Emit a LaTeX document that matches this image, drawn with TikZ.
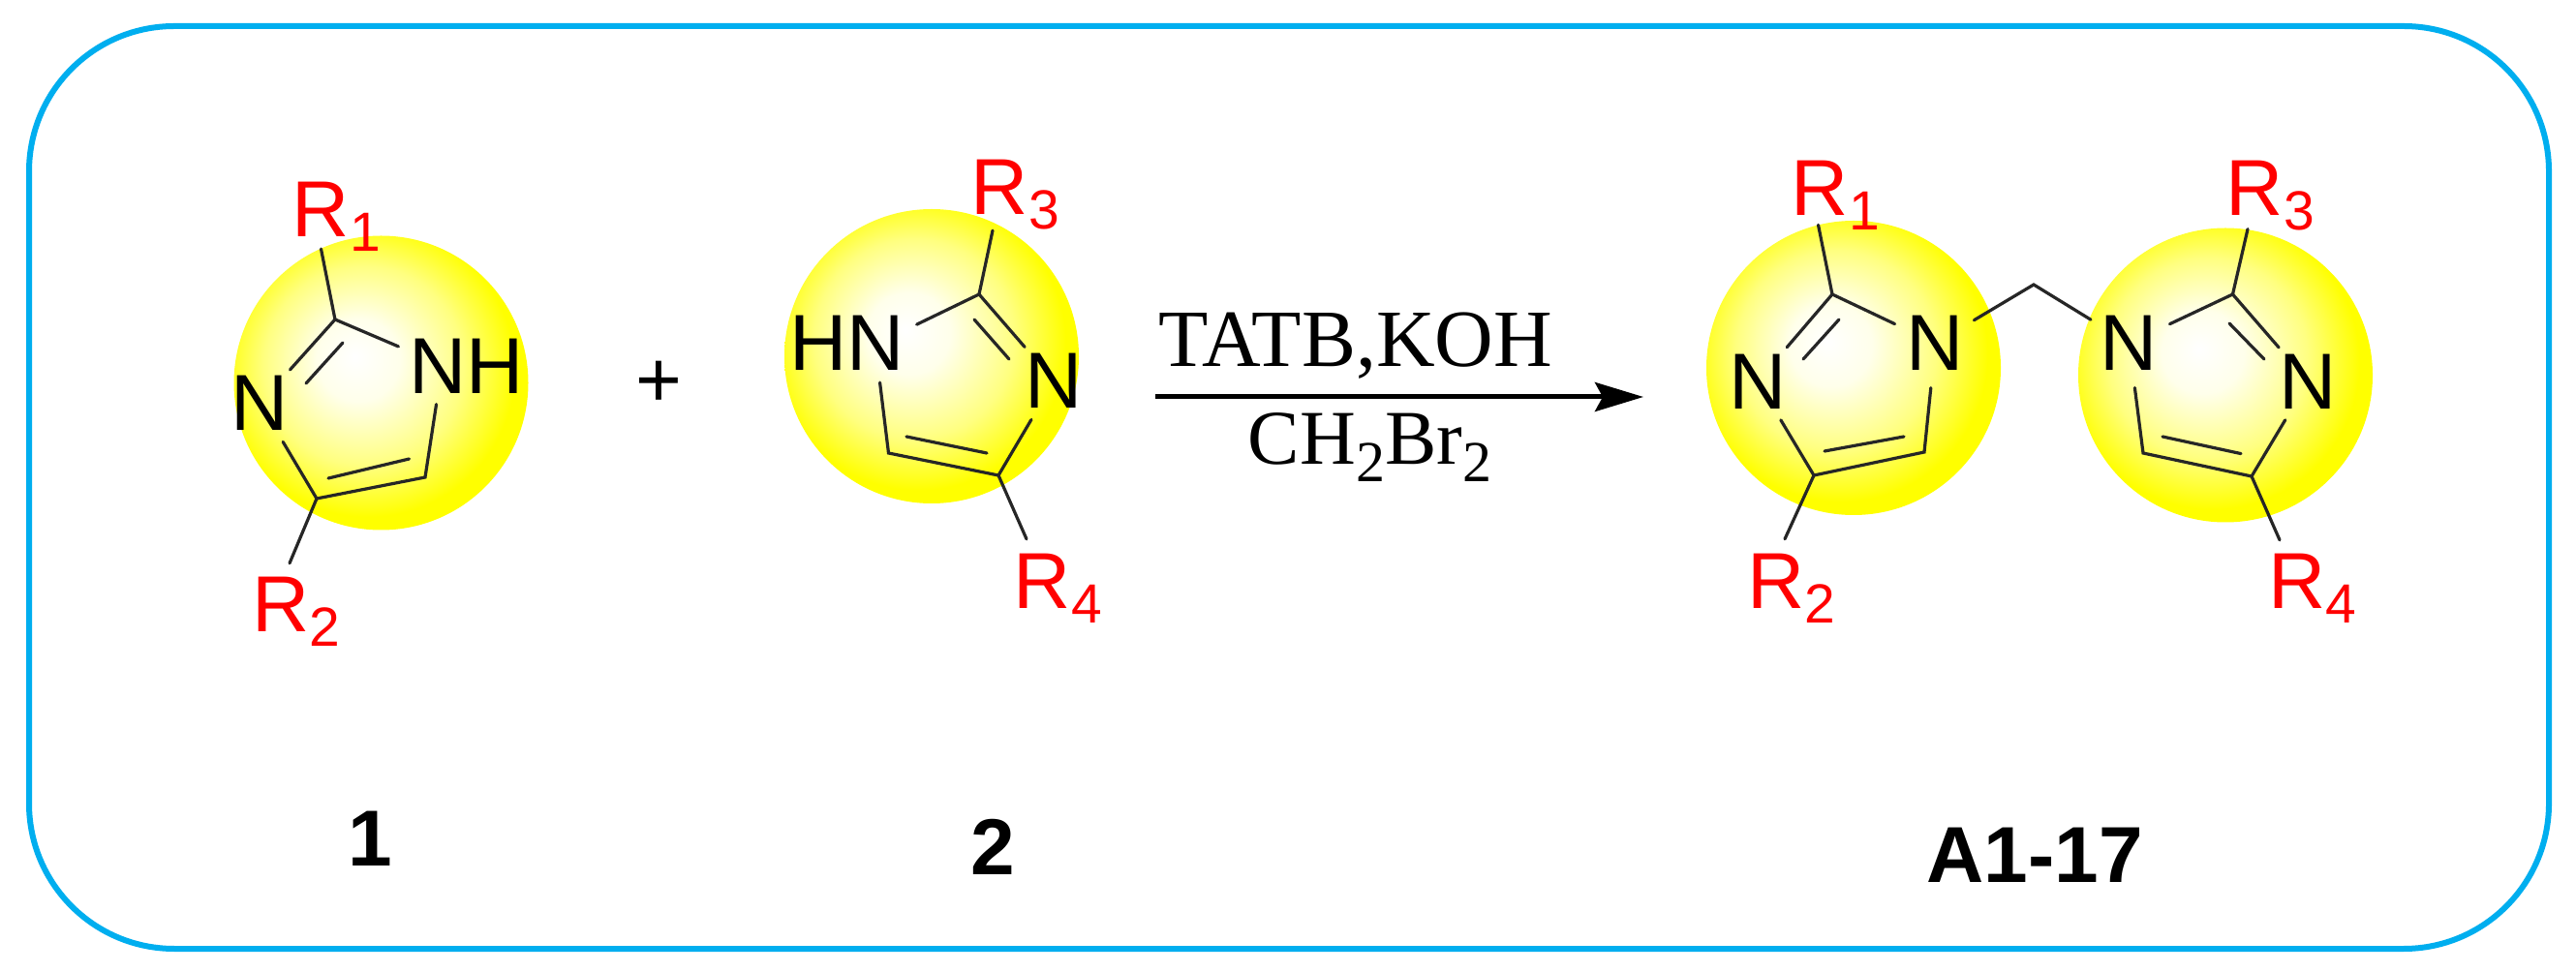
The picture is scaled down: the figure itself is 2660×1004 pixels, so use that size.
\documentclass[tikz,border=0pt]{standalone}
\usepackage{fontspec}
\setmainfont{Liberation Sans}
\newfontfamily\tnrfont{Liberation Serif}
\usetikzlibrary{arrows.meta}
\definecolor{framecyan}{HTML}{00AEEF}
\definecolor{bondgrey}{HTML}{262626}
\pgfdeclareradialshading{ballshade}{\pgfpoint{-4.5bp}{4.5bp}}{%
  color(0bp)=(white); color(7bp)=(white!92!yellow); color(17bp)=(white!50!yellow); color(25bp)=(yellow); color(50bp)=(yellow)}
\newcommand{\Rsub}[1]{R\rlap{\smash{\raisebox{-7.5pt}{\fontsize{28.5pt}{30pt}\selectfont #1}}}}
\newcommand{\sertwo}{\raisebox{-9pt}{\fontsize{30pt}{32pt}\selectfont 2}}
\tikzset{
  frameline/.style={draw=framecyan,line width=3pt,rounded corners=75pt},
  ball/.style={circle,inner sep=0pt,minimum size=152pt,shading=ballshade},
  bond/.style={draw=bondgrey,line width=1.6pt,line cap=round,line join=miter},
  atomn/.style={circle,inner sep=0pt,minimum size=46pt,font=\fontsize{41pt}{45pt}\selectfont},
  atomh/.style={rectangle,inner ysep=5.5pt,font=\fontsize{41pt}{45pt}\selectfont},
  rgroup/.style={rectangle,inner xsep=0pt,inner ysep=6pt,text=red,font=\fontsize{41pt}{45pt}\selectfont},
  serif/.style={font=\tnrfont\fontsize{40pt}{44pt}\selectfont,inner sep=0pt},
  cmpd/.style={font=\bfseries\fontsize{41pt}{45pt}\selectfont,inner sep=0pt},
  plussign/.style={font=\fontsize{41pt}{45pt}\selectfont,inner sep=0pt},
  rxn/.style={draw=black,line width=2.5pt,-{Stealth[length=25pt,width=15pt,inset=4pt]}}
}
\begin{document}
\begin{tikzpicture}[x=0.5pt,y=-0.5pt]
\useasboundingbox (0,0) rectangle (2660,1004);
\path[fill=white] (0,0) rectangle (2660,1004);
\draw[frameline] (30,27) rectangle (2632,980);
% yellow spheres
\node[ball] (balla) at (393.5,395.5) {};
\node[ball] (ballb) at (962,368) {};
\node[ball] (ballc) at (1914,380) {};
\node[ball] (balld) at (2298,387.5) {};
% ---------- molecule 1
\coordinate (ac2) at (346,330);
\coordinate (ac4) at (327,515);
\coordinate (ac5) at (439,493);
\coordinate (ad1) at (354,354);
\coordinate (ad2) at (316,396);
\coordinate (ad3) at (339,494);
\coordinate (ad4) at (422.5,474);
\node[atomn] (an3) at (268.5,416.5) {N};
\node[atomh,inner xsep=5.25pt] (anh) at (481.5,378) {NH};
\node[rgroup] (ar1) at (331.5,216.5) {\Rsub{1}};
\node[rgroup] (ar2) at (290,624) {\Rsub{2}};
\draw[bond] (ac2) -- (an3);
\draw[bond] (ad1) -- (ad2);
\draw[bond] (ac2) -- (anh.164);
\draw[bond] (an3) -- (ac4);
\draw[bond] (ac4) -- (ac5) -- (anh.232);
\draw[bond] (ad3) -- (ad4);
\draw[bond] (ac2) -- (ar1.south);
\draw[bond] (ac4) -- ([shift={(9,-1.6)}]ar2.north);
% plus
\node[plussign] (plus) at (680,397) {+};
% ---------- molecule 2
\coordinate (bc2) at (1011,304);
\coordinate (bc4) at (1031,491);
\coordinate (bc5) at (917.5,468);
\coordinate (bd1) at (1006,330);
\coordinate (bd2) at (1042,371);
\coordinate (bd3) at (1019,468);
\coordinate (bd4) at (936,451);
\node[atomh,inner xsep=6.25pt,inner ysep=6pt] (bhn) at (874.5,354.5) {HN};
\node[atomn] (bn3) at (1088.5,393.5) {N};
\node[rgroup] (br3) at (1032.5,193.5) {\Rsub{3}};
\node[rgroup] (br4) at (1076.5,600) {\Rsub{4}};
\draw[bond] (bc2) -- (bhn.15);
\draw[bond] (bc2) -- (bn3);
\draw[bond] (bd1) -- (bd2);
\draw[bond] (bn3) -- (bc4);
\draw[bond] (bc4) -- (bc5) -- (bhn.-50);
\draw[bond] (bd3) -- (bd4);
\draw[bond] ([shift={(-7.5,4)}]br3.south) -- (bc2);
\draw[bond] (bc4) -- ([shift={(-16.5,-2.6)}]br4.north);
% ---------- reaction arrow
\coordinate (arrowstart) at (1193,410);
\coordinate (arrowend) at (1697,410);
\draw[rxn] (arrowstart) -- (arrowend);
\node[serif,anchor=base,font=\tnrfont\fontsize{42pt}{46pt}\selectfont] (reagent) at (1400,379) {TATB,KOH};
\node[serif,anchor=base] (solvent) at (1414.5,480) {CH\sertwo Br\sertwo};
% ---------- product, left ring
\coordinate (cc2) at (1892,304);
\coordinate (cc4) at (1873,491);
\coordinate (cc5) at (1987,467);
\coordinate (cd1) at (1899,330);
\coordinate (cd2) at (1862,371);
\coordinate (cd3) at (1884,466);
\coordinate (cd4) at (1966,451);
\node[atomn] (cn3) at (1815,394) {N};
\node[atomn] (cn1) at (1998.5,354.5) {N};
\node[rgroup] (cr1) at (1879.5,194) {\Rsub{1}};
\node[rgroup] (cr2) at (1834,600) {\Rsub{2}};
\draw[bond] (cc2) -- (cn3);
\draw[bond] (cd1) -- (cd2);
\draw[bond] (cc2) -- (cn1);
\draw[bond] (cn3) -- (cc4);
\draw[bond] (cc4) -- (cc5) -- (cn1);
\draw[bond] (cd3) -- (cd4);
\draw[bond] ([shift={(-2,-2.3)}]cr1.south) -- (cc2);
\draw[bond] (cc4) -- ([shift={(9,-2.6)}]cr2.north);
% ---------- product, right ring
\coordinate (dc2) at (2305.5,304);
\coordinate (dc4) at (2325,492);
\coordinate (dc5) at (2213,468);
\coordinate (dd1) at (2302,334);
\coordinate (dd2) at (2338,371);
\coordinate (dd3) at (2314,468.6);
\coordinate (dd4) at (2233,451);
\node[atomn] (dn1) at (2198.5,354.5) {N};
\node[atomn] (dn3) at (2383.5,394) {N};
\node[rgroup] (dr3) at (2328.5,194) {\Rsub{3}};
\node[rgroup] (dr4) at (2372,600) {\Rsub{4}};
\draw[bond] (dc2) -- (dn1);
\draw[bond] (dc2) -- (dn3);
\draw[bond] (dd1) -- (dd2);
\draw[bond] (dn3) -- (dc4);
\draw[bond] (dc4) -- (dc5) -- (dn1);
\draw[bond] (dd3) -- (dd4);
\draw[bond] ([shift={(-7.5,2)}]dr3.south) -- (dc2);
\draw[bond] (dc4) -- ([shift={(-18,-1.6)}]dr4.north);
% methylene link
\coordinate (ch2) at (2100,294);
\draw[bond] (cn1) -- (ch2) -- (dn1);
% ---------- compound labels
\node[cmpd] (labela) at (382,866) {1};
\node[cmpd] (labelb) at (1025,874.5) {2};
\node[cmpd] (labelc) at (2101,883) {A1-17};
\end{tikzpicture}
\end{document}
